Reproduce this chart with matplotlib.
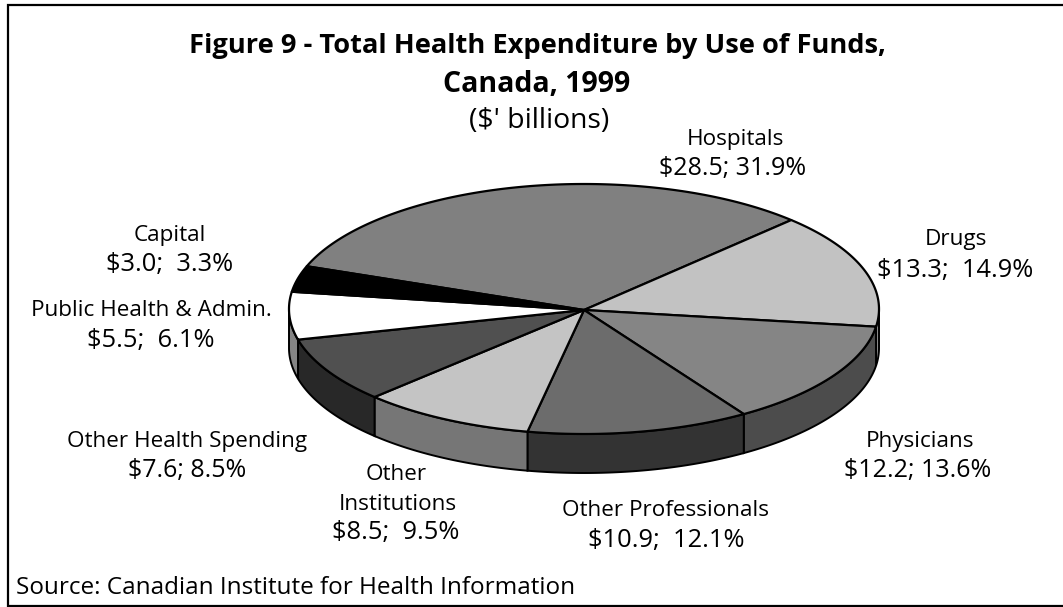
import numpy as np
import matplotlib
matplotlib.use("Agg")
import matplotlib.pyplot as plt
from matplotlib.patches import Polygon, Rectangle

W, H = 1063, 607

# clockwise order, starting at Hospitals
categories = ['Hospitals', 'Drugs', 'Physicians', 'Other Professionals', 'Other Institutions',
              'Other Health Spending', 'Public Health & Admin.', 'Capital']
values = [28.5, 13.3, 12.2, 10.9, 8.5, 7.6, 5.5, 3.0]
shares = [31.9, 14.9, 13.6, 12.1, 9.5, 8.5, 6.1, 3.3]
top_colors = ['#808080', '#c2c2c2', '#858585', '#6c6c6c', '#c4c4c4', '#505050', '#ffffff', '#000000']
side_colors = ['#606060', '#8c8c8c', '#4c4c4c', '#333333', '#767676', '#282828', '#858585', '#000000']

# text, x centre, y centre, font size
labels = [
    ('Hospitals', 735, 138, 16.2), ('\\$28.5; 31.9%', 733, 167, 18),
    ('Drugs', 956, 237, 16.2), ('\\$13.3;  14.9%', 955, 268, 18.4),
    ('Physicians', 920, 440, 16.2), ('\\$12.2; 13.6%', 918, 469, 18),
    ('Other Professionals', 666, 509, 16.2), ('\\$10.9;  12.1%', 666, 538, 18.4),
    ('Other', 396, 472, 16.2), ('Institutions', 398, 502, 16.2), ('\\$8.5;  9.5%', 396, 531, 18.4),
    ('Other Health Spending', 187, 439, 16.2), ('\\$7.6; 8.5%', 187, 469, 18),
    ('Public Health & Admin.', 151, 309, 16.2), ('\\$5.5;  6.1%', 151, 339, 18.4),
    ('Capital', 170, 233, 16.2), ('\\$3.0;  3.3%', 170, 263, 18.4),
]

cx, cy, rx, ry, depth = 584, 309, 295, 125, 39
start_angle = 160

plt.rcParams['font.family'] = ['Open Sans', 'DejaVu Sans']
fig = plt.figure(figsize=(W / 100, H / 100), dpi=100)
ax = fig.add_axes([0, 0, 1, 1])
ax.set_xlim(0, W)
ax.set_ylim(H, 0)
ax.axis('off')

# the frame runs off the right edge of the picture
ax.add_patch(Rectangle((8, 5), W, 601, fc='white', ec='black', lw=1.6, zorder=0))


def rim(a, b):
    t = np.radians(np.linspace(a, b, 120))
    return np.column_stack([cx + rx * np.cos(t), cy - ry * np.sin(t)])


angles = start_angle - 360 * np.cumsum([0] + values) / np.sum(values)
edges = list(zip(angles[:-1], angles[1:]))

# front wall first, only the part of each slice on the lower half shows
for (a, b), col in zip(edges, side_colors):
    for lo, hi in [(-180, 0), (-540, -360), (180, 360)]:
        s, e = max(b, lo), min(a, hi)
        if e <= s:
            continue
        r = rim(s, e)
        low = r + [0, depth]
        ax.add_patch(Polygon(np.vstack([r, low[::-1]]), fc=col, ec='black', lw=1.4, zorder=2))

for (a, b), col in zip(edges, top_colors):
    ax.add_patch(Polygon(np.vstack([[cx, cy + 1], rim(a, b)]), fc=col, ec='black', lw=1.6,
                         joinstyle='round', zorder=3))

ax.text(537, 46, 'Figure 9 - Total Health Expenditure by Use of Funds,', ha='center', va='center',
        fontsize=19.6, fontweight='bold')
ax.text(537, 84, 'Canada, 1999', ha='center', va='center', fontsize=20.5, fontweight='bold')
ax.text(539, 121, "(\\$' billions)", ha='center', va='center', fontsize=20.4)

for txt, x, y, size in labels:
    ax.text(x, y + 2, txt, ha='center', va='center', fontsize=size)

ax.text(16, 588, 'Source: Canadian Institute for Health Information', ha='left', va='center', fontsize=17.5)

fig.savefig('out.png', dpi=100)
